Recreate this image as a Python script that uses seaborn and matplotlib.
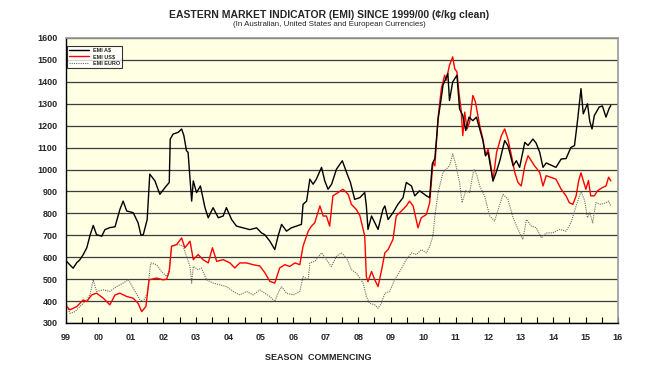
import numpy as np
import pandas as pd
import matplotlib
matplotlib.use('Agg')
import matplotlib.pyplot as plt
import seaborn as sns

# EMI series, cents per kg clean (x = season as decimal year)
aud_x = [1999.02, 1999.12, 1999.22, 1999.33, 1999.43, 1999.53, 1999.64, 1999.74, 1999.84, 1999.94,
         2000.10, 2000.20, 2000.35, 2000.51, 2000.66, 2000.76, 2000.87, 2001.07, 2001.22, 2001.31,
         2001.38, 2001.50, 2001.58, 2001.74, 2001.89, 2002.05, 2002.18, 2002.21, 2002.30, 2002.46,
         2002.56, 2002.63, 2002.71, 2002.76, 2002.87, 2002.92, 2003.02, 2003.14, 2003.28, 2003.38,
         2003.53, 2003.69, 2003.84, 2003.94, 2004.10, 2004.25, 2004.46, 2004.66, 2004.87, 2005.02,
         2005.12, 2005.28, 2005.43, 2005.53, 2005.64, 2005.79, 2005.94, 2006.10, 2006.25, 2006.30,
         2006.41, 2006.51, 2006.61, 2006.71, 2006.87, 2006.97, 2007.07, 2007.18, 2007.33, 2007.51,
         2007.66, 2007.76, 2007.89, 2008.05, 2008.20, 2008.25, 2008.30, 2008.41, 2008.51, 2008.61,
         2008.76, 2008.82, 2008.92, 2009.07, 2009.22, 2009.38, 2009.48, 2009.64, 2009.74, 2009.89,
         2010.10, 2010.20, 2010.28, 2010.36, 2010.46, 2010.56, 2010.61, 2010.71, 2010.76, 2010.81,
         2010.91, 2011.04, 2011.12, 2011.22, 2011.31, 2011.41, 2011.53, 2011.64, 2011.74, 2011.84,
         2011.92, 2012.00, 2012.15, 2012.23, 2012.36, 2012.51, 2012.61, 2012.77, 2012.87, 2012.97,
         2013.13, 2013.23, 2013.38, 2013.48, 2013.59, 2013.69, 2013.79, 2013.94, 2014.09, 2014.25,
         2014.40, 2014.55, 2014.66, 2014.76, 2014.86, 2014.93, 2015.06, 2015.13, 2015.20, 2015.27,
         2015.42, 2015.52, 2015.63, 2015.73, 2015.78]
aud_y = [581, 565, 550, 575, 589, 612, 643, 700, 745, 703,
         696, 726, 735, 739, 818, 856, 811, 803, 757, 700,
         703, 772, 979, 948, 887, 918, 941, 1139, 1162, 1170,
         1185, 1155, 1086, 1078, 856, 948, 895, 925, 826, 780,
         826, 780, 788, 826, 772, 742, 734, 726, 734, 711,
         703, 673, 635, 696, 750, 719, 734, 742, 750, 841,
         856, 956, 933, 956, 1010, 948, 910, 933, 1002, 1040,
         979, 941, 864, 872, 895, 834, 727, 788, 757, 727,
         818, 834, 772, 803, 841, 872, 941, 925, 880, 903,
         880, 872, 1025, 1050, 1230, 1330, 1384, 1420, 1438, 1315,
         1400, 1430, 1277, 1246, 1178, 1239, 1223, 1239, 1185, 1132,
         1063, 1078, 948, 979, 1040, 1132, 1109, 1017, 1040, 1010,
         1124, 1110, 1139, 1120, 1078, 1010, 1030, 1020, 1010, 1048,
         1050, 1101, 1109, 1231, 1369, 1254, 1300, 1220, 1185, 1246,
         1285, 1290, 1239, 1280, 1292]

usd_x = [1999.02, 1999.12, 1999.33, 1999.53, 1999.64, 1999.79, 1999.94, 2000.15, 2000.35, 2000.51,
         2000.66, 2000.87, 2001.07, 2001.22, 2001.33, 2001.46, 2001.56, 2001.79, 2001.99, 2002.10,
         2002.18, 2002.25, 2002.41, 2002.56, 2002.66, 2002.82, 2002.92, 2003.07, 2003.22, 2003.38,
         2003.51, 2003.64, 2003.84, 2004.05, 2004.20, 2004.35, 2004.56, 2004.76, 2004.97, 2005.12,
         2005.28, 2005.43, 2005.58, 2005.74, 2005.89, 2006.05, 2006.20, 2006.30, 2006.46, 2006.56,
         2006.66, 2006.82, 2006.92, 2007.02, 2007.12, 2007.22, 2007.38, 2007.53, 2007.69, 2007.79,
         2007.94, 2008.05, 2008.15, 2008.20, 2008.25, 2008.30, 2008.41, 2008.51, 2008.61, 2008.71,
         2008.82, 2008.92, 2009.07, 2009.17, 2009.33, 2009.48, 2009.58, 2009.69, 2009.84, 2009.94,
         2010.10, 2010.20, 2010.30, 2010.36, 2010.46, 2010.56, 2010.66, 2010.71, 2010.81, 2010.91,
         2010.97, 2011.04, 2011.10, 2011.17, 2011.22, 2011.28, 2011.35, 2011.43, 2011.53, 2011.61,
         2011.74, 2011.84, 2011.92, 2012.00, 2012.10, 2012.15, 2012.26, 2012.41, 2012.51, 2012.61,
         2012.72, 2012.82, 2012.92, 2013.02, 2013.13, 2013.23, 2013.33, 2013.43, 2013.59, 2013.69,
         2013.79, 2013.94, 2014.09, 2014.25, 2014.40, 2014.50, 2014.61, 2014.71, 2014.79, 2014.86,
         2014.93, 2015.01, 2015.09, 2015.16, 2015.27, 2015.37, 2015.52, 2015.63, 2015.71, 2015.78]
usd_y = [375, 360, 375, 405, 398, 428, 436, 413, 383, 428,
         436, 421, 413, 390, 352, 375, 497, 505, 497, 500,
         535, 650, 658, 688, 643, 673, 589, 612, 589, 574,
         643, 581, 589, 574, 551, 574, 574, 566, 560, 530,
         490, 482, 551, 566, 558, 574, 566, 650, 719, 742,
         757, 834, 788, 788, 742, 880, 895, 910, 887, 841,
         818, 790, 727, 696, 512, 489, 535, 497, 466, 535,
         620, 635, 681, 788, 811, 834, 856, 834, 734, 780,
         795, 849, 1032, 1017, 1239, 1369, 1430, 1407, 1476, 1514,
         1460, 1445, 1353, 1269, 1155, 1262, 1185, 1216, 1338, 1308,
         1201, 1139, 1063, 1094, 1002, 948, 1078, 1155, 1185, 1139,
         1063, 987, 941, 925, 1017, 1063, 1040, 1017, 987, 925,
         972, 964, 956, 910, 880, 849, 841, 880, 950, 985,
         950, 910, 950, 880, 880, 903, 918, 925, 965, 948]

eur_x = [1999.02, 1999.12, 1999.28, 1999.43, 1999.64, 1999.74, 1999.84, 1999.94, 2000.15, 2000.35,
         2000.56, 2000.76, 2000.92, 2001.07, 2001.28, 2001.38, 2001.50, 2001.61, 2001.79, 2001.94,
         2002.10, 2002.18, 2002.25, 2002.46, 2002.61, 2002.71, 2002.82, 2002.87, 2002.92, 2003.07,
         2003.17, 2003.33, 2003.53, 2003.74, 2003.94, 2004.15, 2004.35, 2004.56, 2004.76, 2004.97,
         2005.12, 2005.28, 2005.43, 2005.53, 2005.64, 2005.79, 2006.00, 2006.20, 2006.30, 2006.46,
         2006.51, 2006.66, 2006.87, 2007.02, 2007.17, 2007.33, 2007.48, 2007.64, 2007.79, 2007.94,
         2008.05, 2008.15, 2008.25, 2008.35, 2008.51, 2008.61, 2008.71, 2008.82, 2008.97, 2009.12,
         2009.28, 2009.48, 2009.64, 2009.79, 2009.94, 2010.10, 2010.20, 2010.30, 2010.36, 2010.46,
         2010.61, 2010.71, 2010.81, 2010.91, 2011.00, 2011.12, 2011.20, 2011.31, 2011.43, 2011.56,
         2011.66, 2011.74, 2011.89, 2012.05, 2012.20, 2012.31, 2012.46, 2012.61, 2012.77, 2012.92,
         2013.07, 2013.18, 2013.33, 2013.48, 2013.64, 2013.79, 2013.99, 2014.20, 2014.40, 2014.55,
         2014.71, 2014.86, 2014.97, 2015.06, 2015.13, 2015.22, 2015.32, 2015.47, 2015.63, 2015.71,
         2015.78]
eur_y = [383, 344, 352, 375, 405, 430, 497, 444, 451, 444,
         466, 482, 497, 459, 405, 398, 436, 574, 566, 535,
         512, 540, 650, 658, 650, 604, 558, 482, 558, 543,
         551, 497, 482, 474, 466, 444, 428, 444, 428, 451,
         436, 421, 398, 436, 466, 436, 428, 444, 512, 497,
         574, 581, 620, 589, 558, 604, 620, 597, 543, 528,
         505, 482, 421, 390, 383, 367, 390, 436, 444, 497,
         535, 589, 620, 612, 635, 620, 650, 696, 788, 895,
         987, 1002, 1017, 1071, 1025, 941, 849, 903, 895, 1002,
         972, 925, 880, 788, 765, 818, 887, 864, 780, 727,
         681, 772, 742, 735, 688, 711, 711, 727, 719, 757,
         834, 900, 860, 780, 803, 757, 849, 841, 849, 856,
         834]

season_labels = ['99', '00', '01', '02', '03', '04', '05', '06', '07', '08',
                 '09', '10', '11', '12', '13', '14', '15', '16']
y_ticks = list(range(300, 1700, 100))

sns.set_theme(style='white')
plt.rcParams['font.family'] = ['Liberation Sans', 'DejaVu Sans']

W, H = 647, 368
fig = plt.figure(figsize=(W / 100, H / 100), dpi=100)
ax = fig.add_axes([66 / W, 1 - 323 / H, (618 - 66) / W, (323 - 38) / H])
ax.set_facecolor('#FFFFE3')

df_aud = pd.DataFrame({'season': aud_x, 'emi': aud_y})
df_usd = pd.DataFrame({'season': usd_x, 'emi': usd_y})
df_eur = pd.DataFrame({'season': eur_x, 'emi': eur_y})

sns.lineplot(data=df_eur, x='season', y='emi', ax=ax, color='#6a6a6a', lw=0.8,
             linestyle=(0, (1, 1)), estimator=None, label='EMI EURO')
sns.lineplot(data=df_usd, x='season', y='emi', ax=ax, color='#ff0000', lw=1.0,
             estimator=None, label='EMI US$')
sns.lineplot(data=df_aud, x='season', y='emi', ax=ax, color='black', lw=1.0,
             estimator=None, label='EMI A$')

ax.set_xlim(1999, 2016)
ax.set_ylim(300, 1600)
ax.set_yticks(y_ticks)
ax.set_yticklabels([str(v) for v in y_ticks], fontsize=6.5, fontweight='bold')
ax.set_xticks(np.arange(1999, 2017))
ax.set_xticklabels(season_labels, fontsize=6.5, fontweight='bold')
ax.set_xticks(np.arange(1999.5, 2016, 1), minor=True)
ax.tick_params(axis='x', which='both', direction='in', length=4, width=0.8,
               color='black', bottom=True, pad=7)
ax.tick_params(axis='y', length=0, pad=6)
ax.yaxis.grid(True, color='#3c3c3c', lw=0.9)
ax.xaxis.grid(False)
ax.set_axisbelow(True)
ax.set_xlabel('')
ax.set_ylabel('')

for side in ['left', 'bottom']:
    ax.spines[side].set_color('black')
    ax.spines[side].set_linewidth(1.0)
for side in ['top', 'right']:
    ax.spines[side].set_color('#9a9a9a')
    ax.spines[side].set_linewidth(1.2)

handles, labels = ax.get_legend_handles_labels()
order = [2, 1, 0]
leg = ax.legend([handles[i] for i in order], [labels[i] for i in order],
                loc='upper left', bbox_to_anchor=(0.0, 0.975), frameon=True,
                fancybox=False, edgecolor='black', borderaxespad=0.1,
                handlelength=3.6, labelspacing=0.3, borderpad=0.35,
                prop={'weight': 'bold', 'size': 4.0})
leg.get_frame().set_linewidth(0.8)
leg.get_frame().set_facecolor('white')

fig.text(329 / W, 1 - 15 / H, 'EASTERN MARKET INDICATOR (EMI) SINCE 1999/00 (\u00a2/kg clean)',
         ha='center', va='center', fontsize=7.5, fontweight='bold')
fig.text(329 / W, 1 - 25 / H, '(In Australian, United States and European Currencies)',
         ha='center', va='center', fontsize=5.7)
fig.text(318 / W, 1 - 357 / H, 'SEASON  COMMENCING', ha='center', va='center',
         fontsize=6.5, fontweight='bold')

fig.savefig('out.png', dpi=100)
